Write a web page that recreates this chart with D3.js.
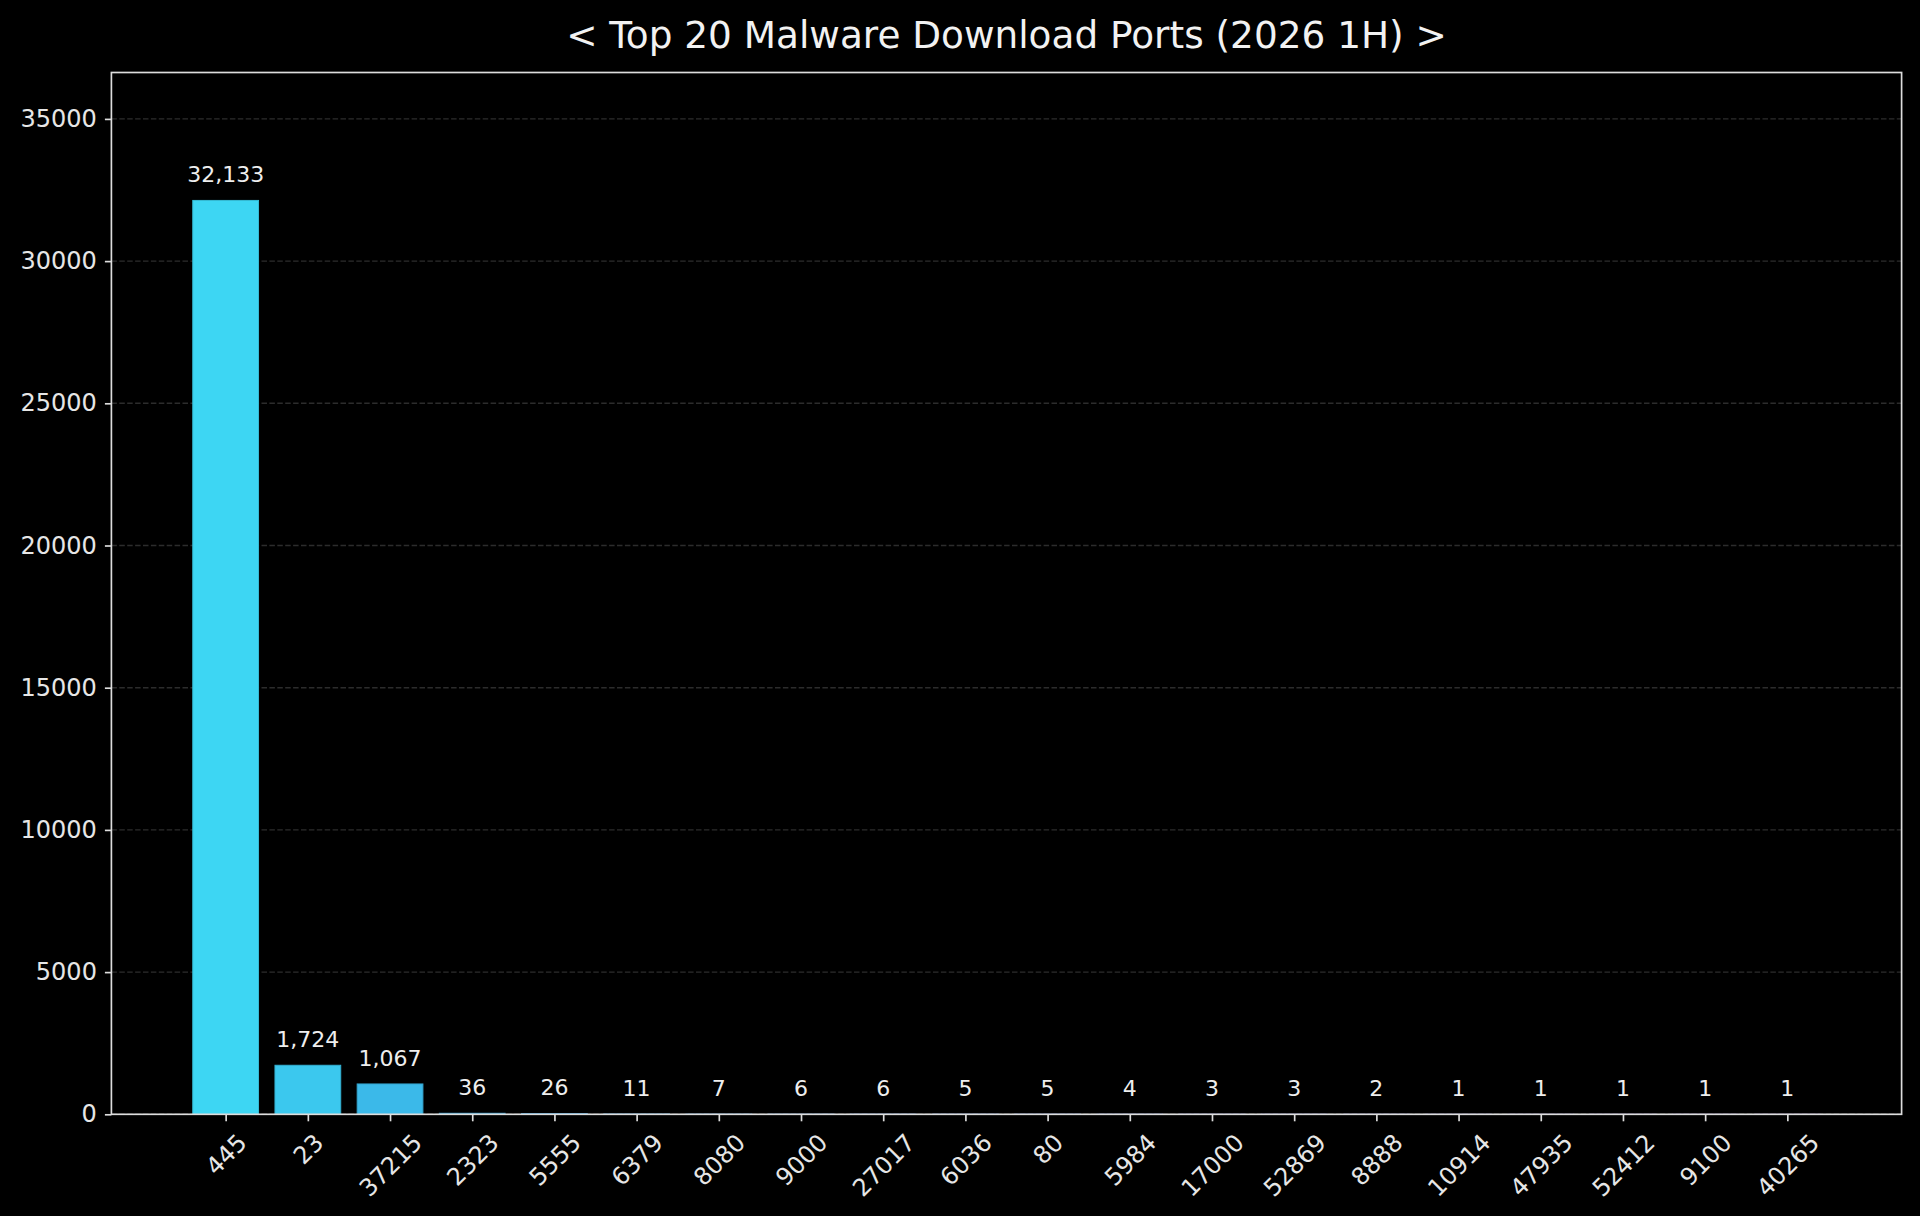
<!DOCTYPE html>
<html>
<head>
<meta charset="utf-8">
<script src="https://cdn.jsdelivr.net/npm/d3@7/dist/d3.min.js"></script>
<style>
    html, body { margin: 0; padding: 0; background: #000; }
    svg { display: block; }
</style>
</head>
<body>
<div id="chart"></div>
<script>
var chartTitle = '< Top 20 Malware Download Ports (2026 1H) >';
var ports = ['445', '23', '37215', '2323', '5555', '6379', '8080', '9000', '27017', '6036',
    '80', '5984', '17000', '52869', '8888', '10914', '47935', '52412', '9100', '40265'];
var downloads = [32133, 1724, 1067, 36, 26, 11, 7, 6, 6, 5, 5, 4, 3, 3, 2, 1, 1, 1, 1, 1];
var yTicks = [0, 5000, 10000, 15000, 20000, 25000, 30000, 35000];
var barColors = ['#3dd6f3', '#3bc8ee', '#3bb9e9', '#3aaae3', '#3a9fdd', '#3a94d8', '#3a89d3',
    '#3a7ece', '#3a73c9', '#3a68c4', '#3a5ebf', '#3b55ba', '#3c4cb5', '#3e44b0', '#403dab',
    '#4337a6', '#4632a1', '#492e9c', '#4c2b97', '#4f2892'];

(function() {
    'use strict';

    var width = 1920;
    var height = 1216;
    var margin = { top: 72.5, right: 18.4, bottom: 101.7, left: 111.4 };
    var innerW = width - margin.left - margin.right;
    var innerH = height - margin.top - margin.bottom;
    var font = '"DejaVu Sans", sans-serif';
    var tickFont = 24;
    var barWidth = 0.8;

    var maxValue = d3.max(downloads);
    var idx = d3.range(ports.length);

    // matplotlib style 5% margins on the category axis
    var lo = -barWidth / 2;
    var hi = ports.length - 1 + barWidth / 2;
    var pad = (hi - lo) * 0.05;

    var x = d3.scaleLinear()
        .domain([lo - pad, hi + pad])
        .range([0, innerW]);

    var y = d3.scaleLinear()
        .domain([0, maxValue * 1.14])
        .range([innerH, 0]);

    var svg = d3.select('#chart')
        .append('svg')
        .attr('width', width)
        .attr('height', height)
        .style('background', '#000');

    svg.append('text')
        .attr('x', margin.left + innerW / 2)
        .attr('y', 47.5)
        .attr('text-anchor', 'middle')
        .style('font-family', font)
        .style('font-size', '37.4px')
        .style('fill', '#f2f2f2')
        .text(chartTitle);

    var g = svg.append('g')
        .attr('transform', 'translate(' + margin.left + ',' + margin.top + ')');

    // grid lines
    g.append('g')
        .selectAll('line')
        .data(yTicks)
        .enter().append('line')
        .attr('x1', 0)
        .attr('x2', innerW)
        .attr('y1', function(d) { return y(d); })
        .attr('y2', function(d) { return y(d); })
        .style('stroke', '#2c2c2c')
        .style('stroke-width', 1.4)
        .style('stroke-dasharray', '5.5,2.4');

    g.append('g')
        .selectAll('rect')
        .data(idx)
        .enter().append('rect')
        .attr('x', function(i) { return x(i - barWidth / 2); })
        .attr('width', function() { return x(barWidth) - x(0); })
        .attr('y', function(i) { return y(downloads[i]); })
        .attr('height', function(i) { return innerH - y(downloads[i]); })
        .style('fill', function(i) { return barColors[i]; })
        .style('stroke', function(i) { return d3.color(barColors[i]).darker(0.35); })
        .style('stroke-width', 1);

    g.append('g')
        .selectAll('text')
        .data(idx)
        .enter().append('text')
        .attr('x', function(i) { return x(i); })
        .attr('y', function(i) { return y(downloads[i] + maxValue * 0.014); })
        .attr('dy', '-0.24em')
        .attr('text-anchor', 'middle')
        .style('font-family', font)
        .style('font-size', '22px')
        .style('fill', '#eeeeee')
        .text(function(i) { return d3.format(',')(downloads[i]); });

    var yAxis = g.append('g')
        .call(d3.axisLeft(y).tickValues(yTicks).tickSize(6.5).tickPadding(8).tickFormat(d3.format('d')));

    var xAxis = g.append('g')
        .attr('transform', 'translate(0,' + innerH + ')')
        .call(d3.axisBottom(x).tickValues(idx).tickSize(7).tickPadding(7)
            .tickFormat(function(i) { return ports[i]; }));

    [yAxis, xAxis].forEach(function(ax) {
        ax.attr('font-family', font).attr('font-size', tickFont);
        ax.select('.domain').remove();
        ax.selectAll('.tick line').style('stroke', '#dddddd').style('stroke-width', 1.67);
        ax.selectAll('.tick text').style('fill', '#e6e6e6');
    });

    // rotated labels, bbox centred under the tick like matplotlib rotation=45
    xAxis.selectAll('.tick text')
        .attr('y', null)
        .attr('dy', '0.35em')
        .attr('text-anchor', 'middle')
        .attr('transform', function() {
            var w = this.getComputedTextLength();
            var h = tickFont * 1.164;
            var off = 14 + (w + h) / (2 * Math.SQRT2);
            return 'translate(0,' + off + ') rotate(-45)';
        });

    // axes frame
    g.append('rect')
        .attr('width', innerW)
        .attr('height', innerH)
        .style('fill', 'none')
        .style('stroke', '#dddddd')
        .style('stroke-width', 1.67);
})();
</script>
</body>
</html>
